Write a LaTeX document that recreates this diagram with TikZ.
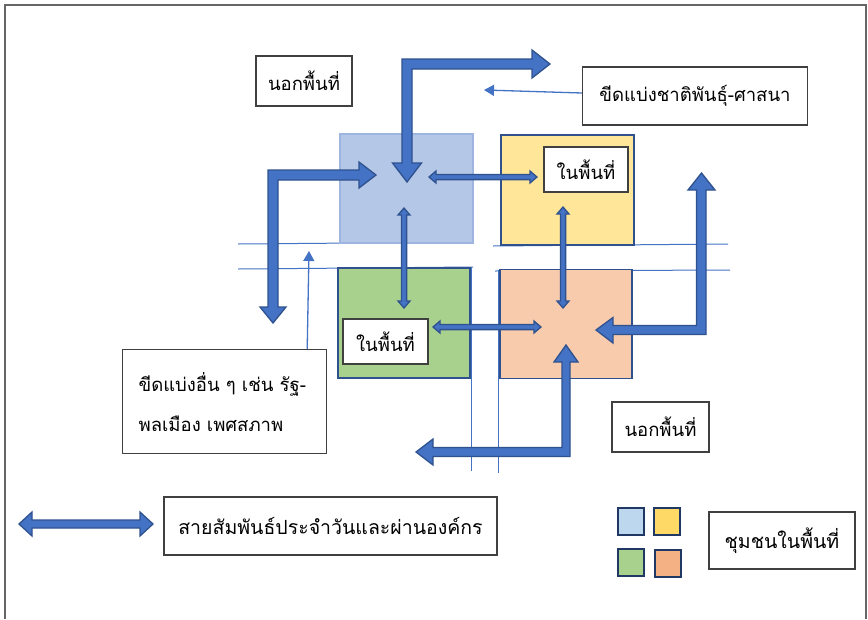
\documentclass[tikz,border=0pt]{standalone}
\usepackage{fontspec}
\newfontfamily\thaifont[Script=Thai]{Loma}
\usetikzlibrary{arrows.meta}
\definecolor{abl}{HTML}{4472C4}
\definecolor{aln}{HTML}{2F528F}
\definecolor{navy}{HTML}{203864}
\definecolor{cblue}{HTML}{B4C7E7}
\definecolor{cblueb}{HTML}{9DB5E0}
\definecolor{cyel}{HTML}{FFE699}
\definecolor{cgrn}{HTML}{A9D18E}
\definecolor{corg}{HTML}{F8CBAD}
\definecolor{lblue}{HTML}{BDD7EE}
\definecolor{lyel}{HTML}{FFD966}
\definecolor{lorg}{HTML}{F4B183}
\newcommand{\HDA}[6]{%
  \filldraw[bigarrow] (#1,#3) -- ({#1+#6},{#3-#5}) -- ({#1+#6},{#3-#4}) -- ({#2-#6},{#3-#4}) -- ({#2-#6},{#3-#5}) -- (#2,#3) -- ({#2-#6},{#3+#5}) -- ({#2-#6},{#3+#4}) -- ({#1+#6},{#3+#4}) -- ({#1+#6},{#3+#5}) -- cycle;}
\newcommand{\VDA}[6]{%
  \filldraw[bigarrow] (#3,#1) -- ({#3-#5},{#1+#6}) -- ({#3-#4},{#1+#6}) -- ({#3-#4},{#2-#6}) -- ({#3-#5},{#2-#6}) -- (#3,#2) -- ({#3+#5},{#2-#6}) -- ({#3+#4},{#2-#6}) -- ({#3+#4},{#1+#6}) -- ({#3+#5},{#1+#6}) -- cycle;}
\begin{document}
\begin{tikzpicture}[x=1pt,y=-1pt,
  tbox/.style={draw=black!75, line width=1.2pt, fill=white, inner sep=0pt,
    font=\thaifont\fontsize{18.5}{20}\selectfont},
  bigarrow/.style={fill=abl, draw=aln, line width=1.3pt, line join=miter},
  bline/.style={draw=abl, line width=1pt},
  thinarrow/.style={draw=abl, line width=1.3pt, -{Triangle[length=10pt,width=11pt]}},
  region/.style={draw=aln, line width=1.8pt, minimum width=132pt, minimum height=109pt, inner sep=0pt},
  legsq/.style={draw=navy, line width=2.2pt, minimum width=26pt, minimum height=27pt, inner sep=0pt}]
\useasboundingbox (0,0) rectangle (868,619);
\fill[white] (0,0) rectangle (868,619);
\draw[black!60, line width=2pt] (5,619) -- (5,5) -- (866,5) -- (866,619);

% boundary lines
\draw[bline] (238,244) -- (473,242);
\draw[bline] (493,246) -- (728,244);
\draw[bline] (238,269) -- (473,267);
\draw[bline] (495,271) -- (730,270);
\draw[bline] (471,267) -- (471,471);
\draw[bline] (498,270) -- (498,473);

% regions
\node[region, fill=cblue, draw=cblueb, minimum width=133pt] (rb) at (406.5,188.5) {};
\node[region, fill=cyel, minimum width=133pt, minimum height=110pt] (ry) at (567.5,190) {};
\node[region, fill=cgrn, minimum height=110pt] (rg) at (404,323) {};
\node[region, fill=corg] (ro) at (566,324) {};

% text boxes
\node[tbox, minimum width=96pt, minimum height=50pt] (out1) at (304,81) {นอกพื้นที่};
\node[tbox, minimum width=225pt, minimum height=58pt] (eth) at (695,96) {ขีดแบ่งชาติพันธุ์-ศาสนา};
\node[tbox, minimum width=84pt, minimum height=45pt] (in1) at (586,169.5) {ในพื้นที่};
\node[tbox, minimum width=85pt, minimum height=45pt] (in2) at (385.5,341.5) {ในพื้นที่};
\node[tbox, anchor=north west, align=left, text width=172pt, inner xsep=16pt, minimum height=104pt,
  font=\thaifont\fontsize{18.5}{40}\selectfont] (oth) at (122,349) {ขีดแบ่งอื่น ๆ เช่น รัฐ-\\พลเมือง เพศสภาพ};
\node[tbox, minimum width=97pt, minimum height=50pt] (out2) at (660.5,427) {นอกพื้นที่};
\node[tbox, minimum width=333pt, minimum height=58pt, font=\thaifont\fontsize{19.5}{20}\selectfont] (leg1) at (330.5,526) {สายสัมพันธ์ประจำวันและผ่านองค์กร};
\node[tbox, minimum width=146pt, minimum height=57pt, font=\thaifont\fontsize{19.5}{20}\selectfont] (leg2) at (782,540.5) {ชุมชนในพื้นที่};

% thin pointer arrows
\coordinate (ethTip) at (484,90);
\coordinate (othTip) at (309,251);
\draw[thinarrow] ([yshift=3pt]eth.west) -- (ethTip);
\draw[thinarrow] ([xshift=-20pt]oth.north east) -- (othTip);

% thin double arrows between regions
\HDA{429}{537}{177}{2.6}{6}{7}
\HDA{433}{541}{327}{2.6}{6}{7}
\VDA{208}{308}{404}{2.6}{6}{7}
\VDA{207}{308}{563}{2.6}{6}{7}

% big bent arrows
\filldraw[bigarrow] (407,182) -- (421.5,163) -- (412,163) -- (412,69) -- (532,69) -- (532,78) -- (550,64) -- (532,50) -- (532,59) -- (402,59) -- (402,163) -- (392.5,163) -- cycle;
\filldraw[bigarrow] (376,175) -- (359,162) -- (359,170) -- (268,170) -- (268,307) -- (260,307) -- (273,323) -- (286,307) -- (278,307) -- (278,180) -- (359,180) -- (359,188) -- cycle;
\filldraw[bigarrow] (596,330) -- (613,317.5) -- (613,325.5) -- (696.5,325.5) -- (696.5,190) -- (688,190) -- (701.5,173) -- (715,190) -- (706,190) -- (706,334.5) -- (613,334.5) -- (613,343) -- cycle;
\filldraw[bigarrow] (566,345) -- (578,362) -- (570,362) -- (570,456.5) -- (433,456.5) -- (433,465) -- (416,452) -- (433,439) -- (433,447.5) -- (562,447.5) -- (562,362) -- (554,362) -- cycle;

% legend
\HDA{19}{153}{524}{4}{12}{13}
\node[legsq, fill=lblue] (sq1) at (631,521.5) {};
\node[legsq, fill=lyel] (sq2) at (667,521.5) {};
\node[legsq, fill=cgrn] (sq3) at (631,562.5) {};
\node[legsq, fill=lorg] (sq4) at (668,563.5) {};
\end{tikzpicture}
\end{document}
